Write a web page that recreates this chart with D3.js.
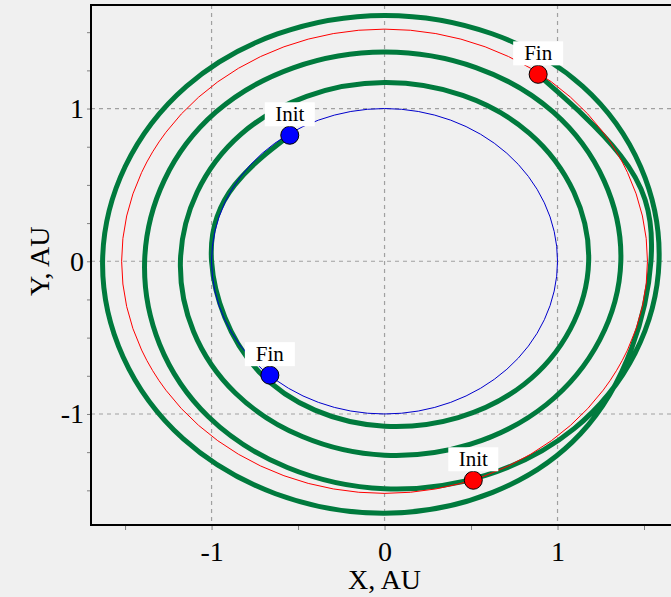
<!DOCTYPE html>
<html>
<head>
<meta charset="utf-8">
<script src="https://cdn.jsdelivr.net/npm/d3@7"></script>
<style>
  html, body { margin: 0; padding: 0; background: #f0f0f0; }
  svg { display: block; }
  text { font-family: "Liberation Serif", "Times New Roman", serif; fill: #000; }
</style>
</head>
<body>
<svg id="chart" width="671" height="597"></svg>
<script>
// planet orbits (AU)
const earthRadius = 1.0;
const marsRadius = 1.52;

// spacecraft spiral: cumulative polar angle (deg) and radius (AU)
const spiralAngle = [123.6, 150, 180, 225, 270, 315, 360, 405, 450, 495, 540, 585, 630, 675,
  720, 765, 810, 855, 900, 945, 990, 1035, 1080, 1125, 1170, 1215, 1260, 1305, 1350, 1395,
  1440, 1467, 1494];
const spiralRadius = [0.99, 1.0, 1.0, 1.025, 1.08, 1.14, 1.18, 1.185, 1.17, 1.175, 1.18, 1.22, 1.27, 1.325,
  1.366, 1.38, 1.37, 1.38, 1.387, 1.44, 1.49, 1.55, 1.587, 1.62, 1.61, 1.62, 1.63, 1.645, 1.65, 1.6,
  1.54, 1.53, 1.51];

// planet positions at start and end
const markerLabels = ['Init', 'Fin', 'Init', 'Fin'];
const markerX = [-0.548, -0.663, 0.513, 0.888];
const markerY = [0.825, -0.746, -1.434, 1.224];
const markerColors = ['#0000ff', '#0000ff', '#ff0000', '#ff0000'];

const xTicks = [-1.5, -1, -0.5, 0, 0.5, 1, 1.5];
const yTicks = [-1.5, -1.25, -1, -0.75, -0.5, -0.25, 0, 0.25, 0.5, 0.75, 1, 1.25, 1.5];
const gridValues = [-1, 0, 1];

const plotLeft = 91, plotTop = 5, plotRight = 671, plotBottom = 525;

const x = d3.scaleLinear().domain([-1.697, 1.656]).range([plotLeft, plotRight]);
const y = d3.scaleLinear().domain([-1.727, 1.678]).range([plotBottom, plotTop]);

const svg = d3.select('#chart');

svg.append('defs').append('clipPath').attr('id', 'plot-clip')
  .append('rect')
  .attr('x', plotLeft).attr('y', plotTop)
  .attr('width', plotRight - plotLeft).attr('height', plotBottom - plotTop);

// grid
const grid = svg.append('g').attr('clip-path', 'url(#plot-clip)');
grid.selectAll('.gx').data(gridValues).join('line')
  .attr('x1', (d) => x(d)).attr('x2', (d) => x(d))
  .attr('y1', plotTop).attr('y2', plotBottom)
  .attr('stroke', '#a0a0a0').attr('stroke-width', 1.2).attr('stroke-dasharray', '4,4');
grid.selectAll('.gy').data(gridValues).join('line')
  .attr('x1', plotLeft).attr('x2', plotRight)
  .attr('y1', (d) => y(d)).attr('y2', (d) => y(d))
  .attr('stroke', '#a0a0a0').attr('stroke-width', 1.2).attr('stroke-dasharray', '4,4');

const plot = svg.append('g').attr('clip-path', 'url(#plot-clip)');

// spiral
const spiralPoints = spiralAngle.map((a, i) => {
  const rad = (a * Math.PI) / 180;
  return [spiralRadius[i] * Math.cos(rad), spiralRadius[i] * Math.sin(rad)];
});
const line = d3.line()
  .x((d) => x(d[0]))
  .y((d) => y(d[1]))
  .curve(d3.curveNatural);
plot.append('path')
  .attr('d', line(spiralPoints))
  .attr('fill', 'none')
  .attr('stroke', '#007a3d')
  .attr('stroke-width', 5)
  .attr('stroke-linejoin', 'round');

// orbits
const orbits = [
  { r: earthRadius, color: '#0000cc' },
  { r: marsRadius, color: '#ff0000' },
];
plot.selectAll('.orbit').data(orbits).join('ellipse')
  .attr('cx', x(0)).attr('cy', y(0))
  .attr('rx', (d) => x(d.r) - x(0))
  .attr('ry', (d) => y(0) - y(d.r))
  .attr('fill', 'none')
  .attr('stroke', (d) => d.color)
  .attr('stroke-width', 1);

// markers with labels
const markers = markerLabels.map((label, i) => ({
  label, cx: x(markerX[i]), cy: y(markerY[i]), color: markerColors[i],
}));
const mg = svg.selectAll('.marker').data(markers).join('g');
mg.append('circle')
  .attr('cx', (d) => d.cx).attr('cy', (d) => d.cy).attr('r', 9)
  .attr('fill', (d) => d.color)
  .attr('stroke', '#000').attr('stroke-width', 1);
mg.append('rect')
  .attr('x', (d) => d.cx - 25).attr('y', (d) => d.cy - 33)
  .attr('width', 50).attr('height', 24)
  .attr('fill', '#fff');
mg.append('text')
  .attr('x', (d) => d.cx).attr('y', (d) => d.cy - 14)
  .attr('text-anchor', 'middle')
  .attr('font-size', 21)
  .text((d) => d.label);

// axes
const fmt = (d) => (Number.isInteger(d) ? String(d) : '');
const xAxis = svg.append('g')
  .attr('transform', `translate(0,${plotBottom})`)
  .call(d3.axisBottom(x).tickValues(xTicks).tickFormat(fmt).tickSize(5).tickSizeOuter(0).tickPadding(11));
const yAxis = svg.append('g')
  .attr('transform', `translate(${plotLeft},0)`)
  .call(d3.axisLeft(y).tickValues(yTicks).tickFormat(fmt).tickSize(4).tickSizeOuter(0).tickPadding(3));
[xAxis, yAxis].forEach((g) => {
  g.select('.domain').remove();
  g.selectAll('.tick line').attr('stroke', '#808080');
  g.selectAll('.tick text')
    .attr('font-family', '"Liberation Serif", serif')
    .attr('font-size', 28)
    .attr('fill', '#000');
});

// frame: left, top, bottom
svg.append('path')
  .attr('d', `M${plotRight + 2},${plotTop}H${plotLeft}V${plotBottom}H${plotRight + 2}`)
  .attr('fill', 'none')
  .attr('stroke', '#000')
  .attr('stroke-width', 2);

// axis titles
svg.append('text')
  .attr('x', x(0)).attr('y', 589)
  .attr('text-anchor', 'middle')
  .attr('font-size', 28)
  .text('X, AU');
svg.append('text')
  .attr('transform', `translate(49,${y(0)}) rotate(-90)`)
  .attr('text-anchor', 'middle')
  .attr('font-size', 28)
  .text('Y, AU');
</script>
</body>
</html>
